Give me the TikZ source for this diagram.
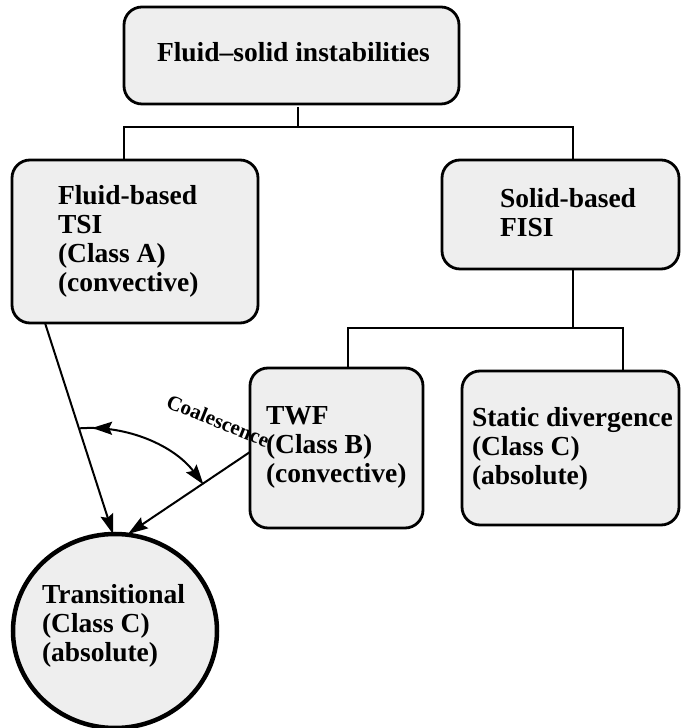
\documentclass[tikz,border=0pt]{standalone}
\usepackage{fontspec}
\setmainfont{Liberation Serif}
\usetikzlibrary{arrows.meta,shapes.geometric,decorations.markings}
\definecolor{boxfill}{RGB}{238,238,238}
\begin{document}
\begin{tikzpicture}[x=1pt,y=1pt,
  boxstyle/.style={draw, line width=2.8pt, fill=boxfill, rounded corners=18pt, inner sep=0pt, outer sep=0pt},
  lbl/.style={anchor=north west, inner sep=0pt, outer sep=0pt, align=left, font=\fontsize{27.5pt}{29pt}\selectfont\bfseries},
  conn/.style={line width=2pt},
  tip/.tip={Stealth[length=20pt,width=13pt,inset=3pt]},
  arr/.style={line width=2pt, -tip}]
\useasboundingbox (0,0) rectangle (680,728);
% boxes
\node[boxstyle, minimum width=335pt, minimum height=97pt] (top) at (291.5,672.5) {};
\node[boxstyle, minimum width=246pt, minimum height=163pt] (left) at (135,486.5) {};
\node[boxstyle, minimum width=237pt, minimum height=109pt] (right) at (560.5,513.5) {};
\node[boxstyle, minimum width=173pt, minimum height=160pt] (twf) at (336.5,280) {};
\node[boxstyle, minimum width=217pt, minimum height=154pt] (stat) at (570.5,280) {};
\node[draw, ellipse, line width=4.5pt, fill=boxfill, minimum width=204pt, minimum height=194pt, inner sep=0pt, outer sep=0pt] (trans) at (115,97) {};
% labels
\node[lbl] (ttop) at (157,685.6) {Fluid–solid instabilities};
\node[lbl] (tleft) at (58,542.6) {Fluid-based\\TSI\\(Class A)\\(convective)};
\node[lbl] (tright) at (500,539.6) {Solid-based\\FISI};
\node[lbl] (ttwf) at (266,321.2) {TWF\\(Class B)\\(convective)};
\node[lbl] (tstat) at (472,320.6) {Static divergence\\(Class C)\\(absolute)};
\node[lbl] (ttrans) at (42,143.6) {Transitional\\(Class C)\\(absolute)};
% tree connectors
\coordinate (b1) at (124,601);
\coordinate (b2) at (573,601);
\coordinate (bc) at (298,601);
\draw[conn] ([yshift=-3pt]top.south -| bc) -- (bc);
\draw[conn] (left.north -| b1) -- (b1) -- (b2) -- (right.north -| b2);
\coordinate (c1) at (348,400);
\coordinate (c2) at (623,400);
\coordinate (cc) at (573,400);
\draw[conn] (right.south -| cc) -- (cc);
\draw[conn] (twf.north -| c1) -- (c1) -- (c2) -- (stat.north -| c2);
% arrows to transitional
\coordinate (la) at (45,0);
\draw[arr] (left.south -| la) -- ([xshift=-2pt]trans.north);
\draw[arr] ([yshift=-4pt]twf.west) -- ([xshift=13pt]trans.north);
% coalescence arc
\coordinate (arcA) at (80.1,299.7);
\draw[conn, -tip, postaction={decorate},
  decoration={markings, mark=at position 12pt with {\arrowreversed{tip}}}]
  (arcA) arc[start angle=94,end angle=37,radius=142];
\node[anchor=base west, rotate=-22, inner sep=0pt, font=\fontsize{21pt}{23pt}\selectfont\bfseries] (coal) at (165,321) {Coalescence};
\end{tikzpicture}
\end{document}
